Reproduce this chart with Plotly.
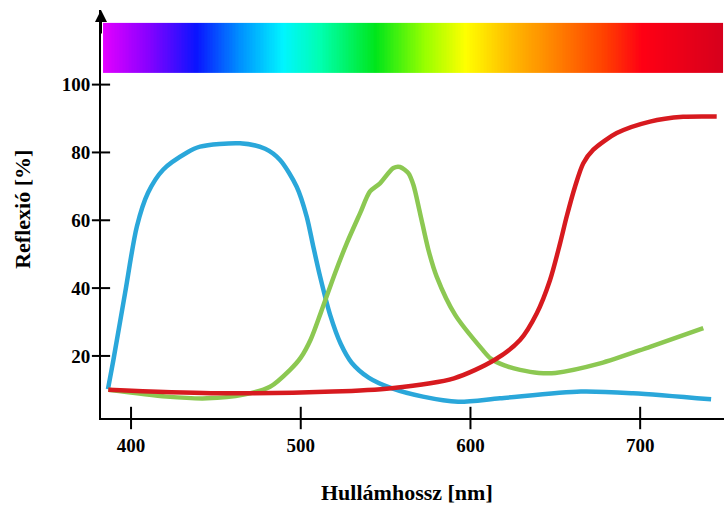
import numpy as np
import plotly.graph_objects as go

# ---- data ----
blue_nm = [386.4, 389.6, 396.5, 403.4, 410.0, 418.9, 432.8, 440.7, 464.2, 479.0, 487.8,
           497.6, 503.5, 507.4, 511.4, 517.3, 523.6, 530.0, 540.0, 553.4, 572.0, 592.7, 617.4,
           665.0, 695.8, 741.8]
blue_val = [10.2, 18.8, 38.6, 58.1, 68.1, 74.9, 79.9, 81.7, 82.7, 81.1, 77.8,
            69.9, 61.1, 52.2, 43.4, 32.1, 23.5, 18.0, 13.6, 10.5, 8.0, 6.5, 7.5,
            9.5, 9.0, 7.2]

green_nm = [386.6, 421.0, 444.8, 466.4, 481.9, 493.7, 500.0, 506.0, 512.0, 520.2, 527.1, 535.0,
            540.8, 546.7, 554.6, 558.5, 563.4, 566.4, 570.3, 575.2, 580.1, 591.0, 606.8, 612.0,
            620.0, 629.2, 640.3, 650.0, 676.4, 705.8, 737.2]
green_val = [10.0, 8.0, 7.5, 8.6, 10.9, 15.9, 19.5, 25.0, 33.0, 44.4, 53.2, 62.1,
             68.5, 70.9, 75.4, 75.7, 73.9, 70.4, 62.1, 51.3, 43.4, 32.1, 22.0, 19.2,
             17.2, 15.9, 15.0, 15.0, 17.8, 22.7, 28.2]

red_nm = [386.6, 447.3, 518.8, 553.4, 590.3, 614.1, 629.2, 639.1, 646.9, 652.8, 656.7,
          661.6, 666.5, 672.4, 686.2, 705.8, 725.3, 745.1]
red_val = [10.0, 9.0, 9.5, 10.5, 13.4, 18.8, 24.7, 32.6, 42.4, 53.2, 61.1,
           69.9, 76.8, 80.8, 85.7, 89.1, 90.5, 90.6]

x_ticks = [400, 500, 600, 700]
y_ticks = [20, 40, 60, 80, 100]

# visible spectrum strip (colour stops as fraction of strip width)
spectrum_stops = [0.0, 0.07, 0.15, 0.22, 0.29, 0.35, 0.44, 0.52, 0.585, 0.66, 0.74, 0.81, 0.87, 1.0]
spectrum_colors = ["#e200ff", "#8a00ff", "#0a14ff", "#0090ff", "#00f5ff", "#00ffb0", "#00e61a",
                   "#99ff00", "#ffff00", "#ffb800", "#ff7a00", "#ff4000", "#ff0014", "#d6001c"]
spectrum_x = [383.5, 748.8]
spectrum_y = [103.6, 118.2]

X_RANGE = [382.3, 749.4]
Y_RANGE = [1.7, 122.0]

fig = go.Figure()

# spectrum strip
N = 400
fig.add_trace(go.Heatmap(
    x=np.linspace(spectrum_x[0], spectrum_x[1], N + 1),
    y=spectrum_y,
    z=[list(np.linspace(0, 1, N))],
    zmin=0, zmax=1,
    colorscale=[[s, c] for s, c in zip(spectrum_stops, spectrum_colors)],
    showscale=False, hoverinfo="skip",
))

lw = 4.5
fig.add_trace(go.Scatter(x=blue_nm, y=blue_val, mode="lines",
                         line=dict(color="#2aa7da", width=lw, shape="spline", smoothing=0.8)))
fig.add_trace(go.Scatter(x=green_nm, y=green_val, mode="lines",
                         line=dict(color="#8cc852", width=lw, shape="spline", smoothing=0.8)))
fig.add_trace(go.Scatter(x=red_nm, y=red_val, mode="lines",
                         line=dict(color="#d71a1f", width=lw, shape="spline", smoothing=0.8)))

# crossing tick marks
fig.add_trace(go.Scatter(x=x_ticks, y=[Y_RANGE[0]] * len(x_ticks), mode="markers",
                         marker=dict(symbol="line-ns", size=16, line=dict(color="black", width=2)),
                         cliponaxis=False, hoverinfo="skip"))
fig.add_trace(go.Scatter(x=[X_RANGE[0]] * len(y_ticks), y=y_ticks, mode="markers",
                         marker=dict(symbol="line-ew", size=13, line=dict(color="black", width=2)),
                         cliponaxis=False, hoverinfo="skip"))

tick_font = dict(family="Liberation Serif", size=19, color="black")
title_font = dict(family="Liberation Serif", size=22, color="black")

fig.update_layout(
    width=724, height=506,
    margin=dict(l=101, r=0, t=10, b=88),
    paper_bgcolor="white", plot_bgcolor="white",
    showlegend=False,
    font=tick_font,
    xaxis=dict(range=X_RANGE, showgrid=False, zeroline=False, showline=True,
               linecolor="black", linewidth=2, ticks="", tickvals=x_ticks,
               ticktext=[f"<b>{v}</b>" for v in x_ticks], ticklabelstandoff=9,
               tickfont=tick_font),
    yaxis=dict(range=Y_RANGE, showgrid=False, zeroline=False, showline=True,
               linecolor="black", linewidth=2, ticks="", tickvals=y_ticks,
               ticktext=[f"<b>{v}</b>" for v in y_ticks], ticklabelstandoff=5,
               tickfont=tick_font),
    annotations=[
        dict(x=X_RANGE[0], y=Y_RANGE[1], xref="x", yref="y", ax=0, ay=25,
             showarrow=True, arrowhead=2, arrowsize=1.2, arrowwidth=2, arrowcolor="black", text=""),
        dict(x=-0.1273, y=0.512, xref="paper", yref="paper", text="<b>Reflexió [%]</b>",
             textangle=-90, showarrow=False, font=title_font,
             xanchor="center", yanchor="middle"),
        dict(x=0.4918, y=-0.1815, xref="paper", yref="paper", text="<b>Hullámhossz [nm]</b>",
             showarrow=False, font=title_font,
             xanchor="center", yanchor="middle"),
    ],
)

fig.write_html("out.html")
